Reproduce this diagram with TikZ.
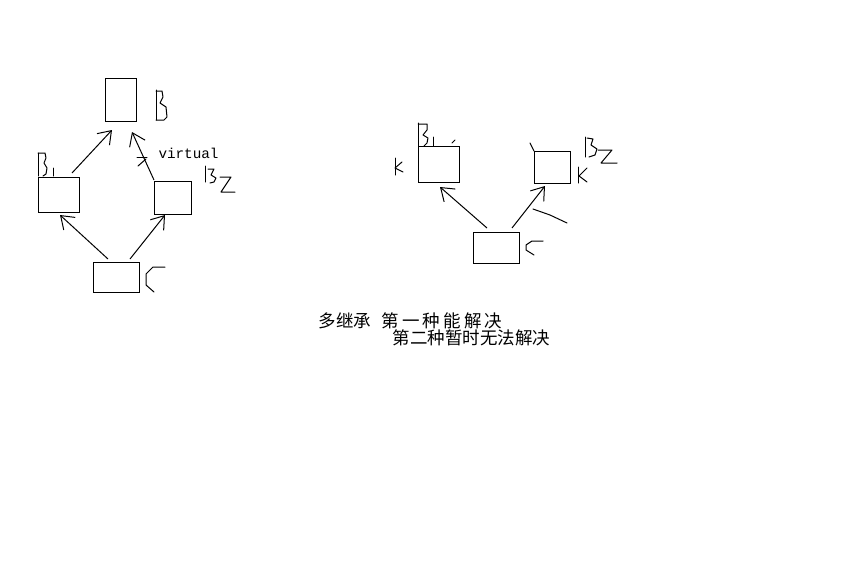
\documentclass[tikz,border=0pt]{standalone}
\usepackage{fontspec}
\newfontfamily\cjk{Noto Sans CJK SC}
\newfontfamily\mono{Liberation Mono}
\usetikzlibrary{arrows.meta}
\newcommand{\cg}{\hspace{3.2pt}}
\begin{document}
\begin{tikzpicture}[x=1pt,y=-1pt,line width=1pt,
  box/.style={draw,rectangle,inner sep=0pt,outer sep=0pt},
  arr/.style={-{Straight Barb[length=12pt,width=17pt]}},
  hand/.style={line join=round,line cap=round},
  cjktext/.style={anchor=base west,inner sep=0pt,font=\cjk\fontsize{17.5}{17.5}\selectfont},
  monotext/.style={anchor=base west,inner sep=0pt,font=\mono\fontsize{14.3}{15}\selectfont}]
\fill[white] (0,0) rectangle (862,581);
\useasboundingbox (0,0) rectangle (862,581);

% ---- left diagram ----
\node[box,minimum width=31pt,minimum height=43pt] (B) at (120.5,99.5) {};
\node[box,minimum width=41pt,minimum height=35pt] (B1) at (58.5,194.5) {};
\node[box,minimum width=37pt,minimum height=33pt] (B2) at (172.5,197.5) {};
\node[box,minimum width=46pt,minimum height=30pt] (C) at (116,277) {};

\draw[arr] ([xshift=13.5pt,yshift=4pt]B1.north) -- ([xshift=-8.5pt,yshift=-9pt]B.south);
\draw[arr] ([yshift=1pt]B2.north west) -- ([xshift=11.5pt,yshift=-11pt]B.south);
\draw[arr] ([xshift=-8pt,yshift=3pt]C.north) -- ([xshift=1.5pt,yshift=-3pt]B1.south);
\draw[arr] ([xshift=14pt,yshift=3pt]C.north) -- ([xshift=-7.5pt,yshift=-1pt]B2.south);

\node[monotext] (virt) at (158,158) {virtual};

% hand-drawn labels (left)
\draw[hand] (156,120) -- (156,90);
\draw[hand] (156,91) -- (162,91) -- (163,97) -- (160,103) -- (166,107) -- (167,117) -- (164,120) -- (156,120);
\draw[hand] (38,176) -- (38,153);
\draw[hand] (38,153) -- (45,153) -- (46,158) -- (44,163) -- (47,168) -- (46,174) -- (43,176);
\draw[hand] (53,168) -- (53,176);
\draw[hand] (205,166) -- (205,182);
\draw[hand] (208,169) -- (214,169) -- (211,175) -- (216,178) -- (214,182) -- (210,183);
\draw[hand] (220,177) -- (231,177) -- (221,192) -- (235,192);
\draw[hand] (165,267) -- (153,267) -- (146,274) -- (146,285) -- (154,292);
\draw[hand] (137,157) -- (147,157);
\draw[hand] (146,159) -- (138,166);

% ---- right diagram ----
\node[box,minimum width=41pt,minimum height=36pt] (RB1) at (438.5,164) {};
\node[box,minimum width=36pt,minimum height=32pt] (RB2) at (552,167) {};
\node[box,minimum width=46pt,minimum height=31pt] (RC) at (496,247.5) {};

\draw[arr] ([xshift=-9pt,yshift=4pt]RC.north) -- ([xshift=1.5pt,yshift=-5pt]RB1.south);
\draw[arr] ([xshift=16pt,yshift=4pt]RC.north) -- ([xshift=-7pt,yshift=-3pt]RB2.south);

\draw[hand] (418,146) -- (418,123);
\draw[hand] (418,124) -- (427,124) -- (427,130) -- (423,135) -- (428,138) -- (427,143) -- (424,146);
\draw[hand] (433,137) -- (433,146);
\draw[hand] (452,143) -- (455,140);
\draw[hand] (395,158) -- (395,175);
\draw[hand] (402,162) -- (395,168) -- (403,172);
\draw[hand] (585,137) -- (585,157);
\draw[hand] (587,138) -- (593,139) -- (591,145) -- (597,149) -- (595,155) -- (589,157);
\draw[hand] (598,150) -- (612,150) -- (601,163) -- (617,163);
\draw[hand] (578,167) -- (578,183);
\draw[hand] (587,168) -- (579,176) -- (587,182);
\draw[hand] (530,143) -- (534,151);
\draw[hand] (543,241) -- (532,241) -- (526,245) -- (526,250) -- (534,255);
\draw[hand] (533,209) -- (550,215) -- (567,223);

% ---- text ----
\node[cjktext] (t1) at (318,327) {多继承};
\node[cjktext] (t2) at (381,327) {第\cg 一\cg 种\cg 能\cg 解\cg 决};
\node[cjktext] (t3) at (392,344) {第二种暂时无法解决};
\end{tikzpicture}
\end{document}
